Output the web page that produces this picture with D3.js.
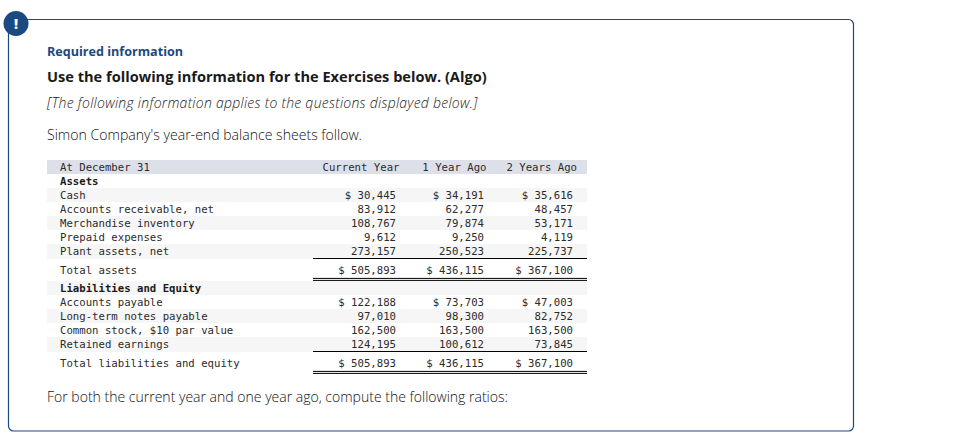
<!DOCTYPE html>
<html lang="en">
<head>
<meta charset="UTF-8">
<title>Simon Company balance sheets</title>
<script src="https://d3js.org/d3.v7.min.js"></script>
<style>
  html, body { margin: 0; background: #fff; }
  svg { display: block; }
  .sans { font-family: "Open Sans", sans-serif; }
  .mono { font-family: "DejaVu Sans Mono", monospace; font-size: 10.67px; fill: #2b2b2b; }
</style>
</head>
<body>
<svg width="976" height="434"></svg>
<script>
var columns = ['Current Year', '1 Year Ago', '2 Years Ago'];

var assetLabels = ['Cash', 'Accounts receivable, net', 'Merchandise inventory', 'Prepaid expenses', 'Plant assets, net'];
var cash = [30445, 34191, 35616];
var receivable = [83912, 62277, 48457];
var inventory = [108767, 79874, 53171];
var prepaid = [9612, 9250, 4119];
var plant = [273157, 250523, 225737];
var totalAssets = [505893, 436115, 367100];

var liabilityLabels = ['Accounts payable', 'Long-term notes payable', 'Common stock, $10 par value', 'Retained earnings'];
var payable = [122188, 73703, 47003];
var notes = [97010, 98300, 82752];
var stock = [162500, 163500, 163500];
var retained = [124195, 100612, 73845];
var totalEquity = [505893, 436115, 367100];

var svg = d3.select('svg');
var navy = '#1b4a80';
var money = d3.format(',');

// outer box and alert badge
svg.append('rect')
    .attr('x', 8.5).attr('y', 19.5)
    .attr('width', 845).attr('height', 411.5)
    .attr('rx', 5)
    .attr('fill', 'none')
    .attr('stroke', navy)
    .attr('stroke-width', 1.2);
svg.append('circle')
    .attr('cx', 16).attr('cy', 23.5).attr('r', 12.5)
    .attr('fill', navy);
svg.append('text')
    .attr('class', 'sans')
    .attr('x', 16).attr('y', 29)
    .attr('text-anchor', 'middle')
    .attr('font-size', 14).attr('font-weight', 800)
    .attr('fill', '#fff')
    .text('!');

var lines = [
    { t: 'Required information', y: 56, size: 12.6, weight: 700, fill: navy },
    { t: 'Use the following information for the Exercises below. (Algo)', y: 82, size: 14.6, weight: 700, fill: '#1a1a1a' },
    { t: '[The following information applies to the questions displayed below.]', y: 108, size: 14, weight: 300, style: 'italic', fill: '#222', spacing: 0.26 },
    { t: "Simon Company's year-end balance sheets follow.", y: 140, size: 14.08, weight: 300, fill: '#111' },
    { t: 'For both the current year and one year ago, compute the following ratios:', y: 402, size: 14.03, weight: 300, fill: '#111' }
];
svg.selectAll('text.line').data(lines)
    .enter().append('text')
    .attr('class', 'line sans')
    .attr('x', 47)
    .attr('y', d => d.y)
    .attr('font-size', d => d.size)
    .attr('font-weight', d => d.weight)
    .attr('font-style', d => d.style || 'normal')
    .attr('letter-spacing', d => d.spacing || 0)
    .attr('fill', d => d.fill)
    .text(d => d.t);

// table rows, top edge and height worked out here rather than in the data
var rowH = 14;
var assetRows = assetLabels.map((l, i) => ({
    label: l, values: [cash, receivable, inventory, prepaid, plant][i], top: 188 + i * rowH, shade: i % 2 == 0, dollar: i == 0
}));
var debtRows = liabilityLabels.map((l, i) => ({
    label: l, values: [payable, notes, stock, retained][i], top: 295 + i * rowH, shade: i % 2 == 1, dollar: i == 0
}));
var rows = [
    { label: 'At December 31', top: 160, head: true },
    { label: 'Assets', top: 174, bold: true }
].concat(assetRows, [
    { label: 'Total assets', values: totalAssets, top: 263, dollar: true },
    { label: 'Liabilities and Equity', top: 281, bold: true, shade: true }
], debtRows, [
    { label: 'Total liabilities and equity', values: totalEquity, top: 356, dollar: true }
]);

var colEnd = d3.scaleOrdinal().domain(columns).range([396, 484, 573]);
var headEnd = d3.scaleOrdinal().domain(columns).range([399.5, 486.5, 577]);

svg.selectAll('rect.band').data(rows.filter(d => d.head || d.shade))
    .enter().append('rect')
    .attr('class', 'band')
    .attr('x', 47).attr('y', d => d.top)
    .attr('width', 540)
    .attr('height', d => d.top == 244 || d.top == 337 ? 15 : rowH)
    .attr('fill', d => d.head ? '#dde0e9' : '#f6f6f6');

svg.selectAll('text.label').data(rows)
    .enter().append('text')
    .attr('class', 'label mono')
    .attr('x', 60)
    .attr('y', d => d.top + 11)
    .attr('font-weight', d => d.bold ? 700 : 400)
    .style('fill', d => d.bold ? '#1a1a1a' : null)
    .text(d => d.label);

svg.selectAll('text.head').data(columns)
    .enter().append('text')
    .attr('class', 'head mono')
    .attr('x', d => headEnd(d))
    .attr('y', 171)
    .attr('text-anchor', 'end')
    .text(d => d);

var cells = rows.filter(d => d.values).flatMap(r => r.values.map((v, i) => ({ col: columns[i], v: v, top: r.top, dollar: r.dollar })));
svg.selectAll('text.cell').data(cells)
    .enter().append('text')
    .attr('class', 'cell mono')
    .attr('x', d => colEnd(d.col))
    .attr('y', d => d.top + 11)
    .attr('text-anchor', 'end')
    .text(d => (d.dollar ? '$ ' : '') + money(d.v));

// subtotal and total rules
var rules = [258.5, 278.4, 280.4, 351.5, 371.4, 373.4];
svg.selectAll('line.rule').data(rules)
    .enter().append('line')
    .attr('class', 'rule')
    .attr('x1', 313).attr('x2', 587)
    .attr('y1', d => d).attr('y2', d => d)
    .attr('stroke', '#000')
    .attr('stroke-width', 1);
</script>
</body>
</html>
